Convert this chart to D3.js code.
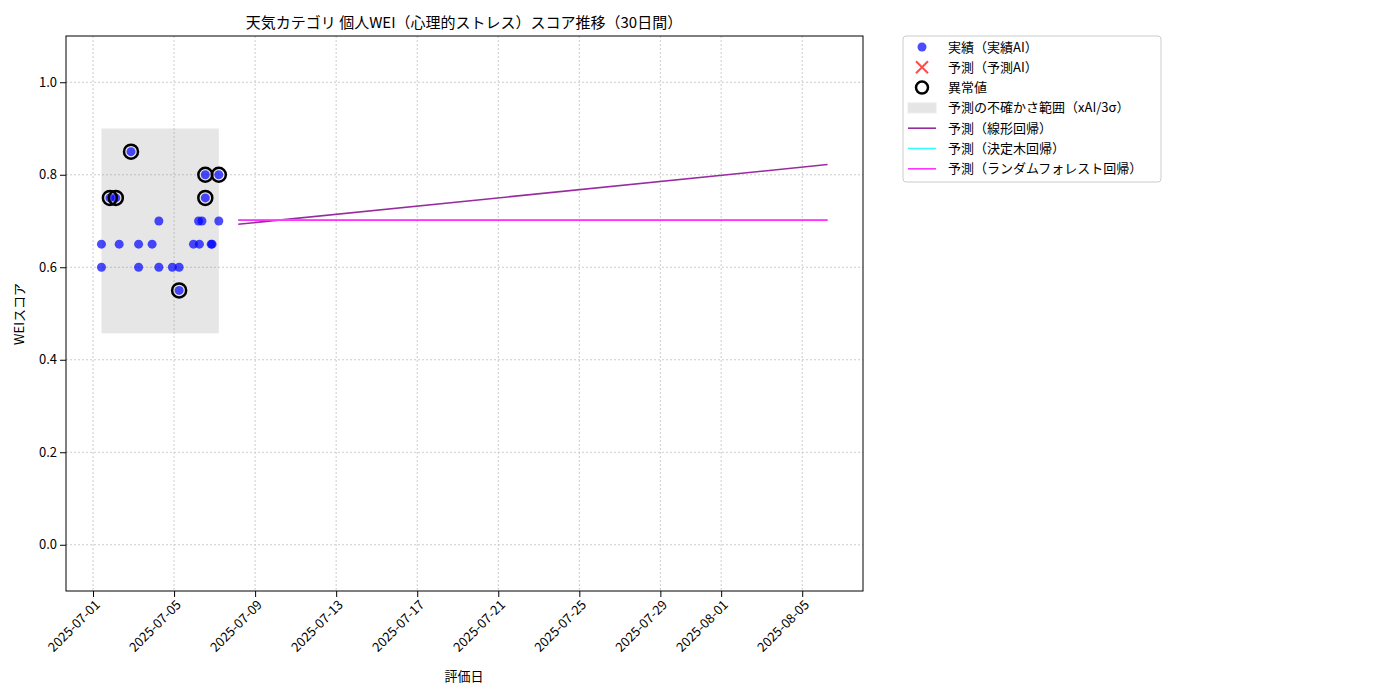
<!DOCTYPE html><html><head><meta charset="utf-8"><script src="https://cdn.jsdelivr.net/npm/d3@7"></script>
<style>body{margin:0;background:#fff}text{font-family:"Noto Sans CJK JP","DejaVu Sans",sans-serif}</style></head><body>
<svg id="c" width="1400" height="700"></svg>
<script>
const actualDates=["07-01T10","07-02T07","07-03T06","07-03T22","07-05T23","07-06T06","07-06T20","07-06T21",
"07-01T10","07-03T06","07-04T06","07-04T22","07-05T06",
"07-04T06","07-06T05","07-06T09","07-07T05",
"07-01T20","07-02T03","07-06T13","07-02T21","07-06T13","07-07T05","07-05T06"];
const actualValues=[0.65,0.65,0.65,0.65,0.65,0.65,0.65,0.65,0.60,0.60,0.60,0.60,0.60,0.70,0.70,0.70,0.70,0.75,0.75,0.75,0.85,0.80,0.80,0.55];
const anomalyDates=["07-01T20","07-02T03","07-06T13","07-02T21","07-06T13","07-07T05","07-05T06"];
const anomalyValues=[0.75,0.75,0.75,0.85,0.80,0.80,0.55];
const bandX=["07-01T10","07-07T05"];const bandY=[0.457,0.9];
const predDates=["07-08T04","08-06T06"];
const linearValues=[0.693,0.822];
const treeValues=[0.702,0.702];
const forestValues=[0.702,0.702];
const xTicks=["07-01","07-05","07-09","07-13","07-17","07-21","07-25","07-29","08-01","08-05"];
const yTicks=[0,0.2,0.4,0.6,0.8,1.0];
const P=s=>new Date("2025-"+(s.length>5?s+":00:00":s+"T00:00:00"));
const svg=d3.select("#c");
const L=66,R=863,T=36,B=591;
const x=d3.scaleTime().domain([P("06-29T16"),P("08-08T00")]).range([L,R]);
const y=d3.scaleLinear().domain([-0.1,1.1]).range([B,T]);
const g=svg.append("g");
xTicks.forEach(t=>g.append("line").attr("x1",x(P(t))).attr("x2",x(P(t))).attr("y1",T).attr("y2",B).attr("stroke","#ccc").attr("stroke-dasharray","2,2"));
yTicks.forEach(t=>g.append("line").attr("x1",L).attr("x2",R).attr("y1",y(t)).attr("y2",y(t)).attr("stroke","#ccc").attr("stroke-dasharray","2,2"));
g.append("rect").attr("x",x(P(bandX[0]))).attr("width",x(P(bandX[1]))-x(P(bandX[0]))).attr("y",y(bandY[1])).attr("height",y(bandY[0])-y(bandY[1])).attr("fill","#808080").attr("opacity",0.2);
const ln=d3.line().x(d=>x(P(d[0]))).y(d=>y(d[1]));
[[linearValues,"#992ba0"],[treeValues,"#33ffff"],[forestValues,"#ff33ff"]].forEach(([v,c])=>g.append("path").attr("d",ln(predDates.map((d,i)=>[d,v[i]]))).attr("stroke",c).attr("stroke-width",1.6).attr("fill","none"));
actualDates.forEach((d,i)=>g.append("circle").attr("cx",x(P(d))).attr("cy",y(actualValues[i])).attr("r",4.5).attr("fill","#0000ff").attr("opacity",0.7));
anomalyDates.forEach((d,i)=>g.append("circle").attr("cx",x(P(d))).attr("cy",y(anomalyValues[i])).attr("r",7).attr("fill","none").attr("stroke","#000").attr("stroke-width",2.5));
svg.append("rect").attr("x",L).attr("y",T).attr("width",R-L).attr("height",B-T).attr("fill","none").attr("stroke","#000");
const xa=svg.append("g").attr("transform",`translate(0,${B})`).call(d3.axisBottom(x).tickValues(xTicks.map(P)).tickFormat(d3.timeFormat("%Y-%m-%d")).tickSizeOuter(0));
xa.selectAll("text").attr("transform","rotate(-45)").attr("text-anchor","end").attr("dx","-0.4em").attr("dy","0.5em").style("font-size","13px");
xa.select(".domain").remove();
const ya=svg.append("g").attr("transform",`translate(${L},0)`).call(d3.axisLeft(y).tickValues(yTicks).tickFormat(d3.format(".1f")).tickSizeOuter(0));
ya.selectAll("text").style("font-size","13px");ya.select(".domain").remove();
svg.append("text").attr("x",464).attr("y",28).attr("text-anchor","middle").style("font-size","15px").text("天気カテゴリ 個人WEI（心理的ストレス）スコア推移（30日間）");
svg.append("text").attr("x",464).attr("y",681).attr("text-anchor","middle").style("font-size","13px").text("評価日");
svg.append("text").attr("transform","translate(24,314) rotate(-90)").attr("text-anchor","middle").style("font-size","13px").text("WEIスコア");
const lg=svg.append("g").attr("transform","translate(903,36)");
lg.append("rect").attr("width",258).attr("height",146).attr("fill","#fff").attr("stroke","#ccc").attr("rx",3);
const items=["実績（実績AI）","予測（予測AI）","異常値","予測の不確かさ範囲（xAI/3σ）","予測（線形回帰）","予測（決定木回帰）","予測（ランダムフォレスト回帰）"];
items.forEach((t,i)=>{const yy=11+i*20.3,s=lg.append("g");
 if(i==0)s.append("circle").attr("cx",19).attr("cy",yy).attr("r",4.5).attr("fill","#0000ff").attr("opacity",0.7);
 if(i==1){s.append("path").attr("d",`M13,${yy-6}L25,${yy+6}M13,${yy+6}L25,${yy-6}`).attr("stroke","#ff0000").attr("opacity",0.7).attr("stroke-width",2);}
 if(i==2)s.append("circle").attr("cx",19).attr("cy",yy).attr("r",6).attr("fill","none").attr("stroke","#000").attr("stroke-width",2.5);
 if(i==3)s.append("rect").attr("x",5).attr("y",yy-5).attr("width",28).attr("height",10).attr("fill","#808080").attr("opacity",0.2).attr("stroke","#999");
 if(i>=4)s.append("line").attr("x1",5).attr("x2",33).attr("y1",yy).attr("y2",yy).attr("stroke",["#992ba0","#33ffff","#ff33ff"][i-4]).attr("stroke-width",1.6);
 s.append("text").attr("x",45).attr("y",yy+4.5).style("font-size","13px").text(t);});
</script></body></html>
